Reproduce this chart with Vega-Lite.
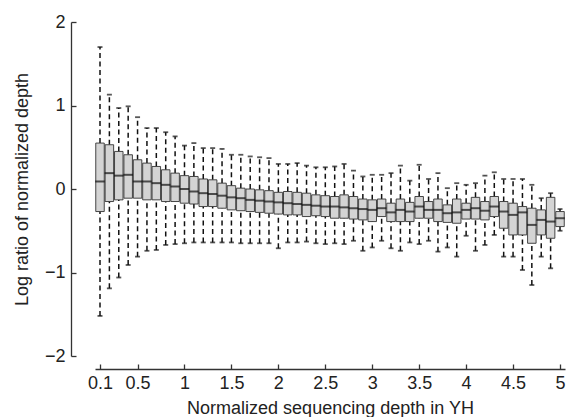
{
  "$schema": "https://vega.github.io/schema/vega-lite/v6.json",
  "width": 470,
  "height": 334,
  "autosize": {"type": "none"},
  "padding": {"left": 95, "top": 22, "right": 5, "bottom": 61},
  "background": "white",
  "config": {
    "font": "Liberation Sans",
    "view": {"stroke": null},
    "axis": {"grid": false, "domainColor": "#333", "tickColor": "#333", "labelColor": "#222", "titleColor": "#222", "labelFontSize": 18, "titleFontSize": 18, "labelFontWeight": "normal", "titleFontWeight": "normal", "domainWidth": 1.3, "tickWidth": 1.3}
  },
  "data": {
    "values": [
      {"x": 0.1, "lw": -1.52, "q1": -0.27, "med": 0.09, "q3": 0.55, "uw": 1.70},
      {"x": 0.2, "lw": -1.19, "q1": -0.15, "med": 0.19, "q3": 0.53, "uw": 1.13},
      {"x": 0.3, "lw": -1.06, "q1": -0.13, "med": 0.16, "q3": 0.45, "uw": 0.97},
      {"x": 0.4, "lw": -0.91, "q1": -0.11, "med": 0.17, "q3": 0.41, "uw": 0.99},
      {"x": 0.5, "lw": -0.81, "q1": -0.11, "med": 0.09, "q3": 0.35, "uw": 0.86},
      {"x": 0.6, "lw": -0.74, "q1": -0.13, "med": 0.09, "q3": 0.31, "uw": 0.73},
      {"x": 0.7, "lw": -0.73, "q1": -0.13, "med": 0.07, "q3": 0.27, "uw": 0.73},
      {"x": 0.8, "lw": -0.67, "q1": -0.15, "med": 0.05, "q3": 0.23, "uw": 0.68},
      {"x": 0.9, "lw": -0.66, "q1": -0.15, "med": 0.03, "q3": 0.19, "uw": 0.63},
      {"x": 1.0, "lw": -0.65, "q1": -0.17, "med": 0.00, "q3": 0.16, "uw": 0.52},
      {"x": 1.1, "lw": -0.64, "q1": -0.18, "med": -0.03, "q3": 0.15, "uw": 0.55},
      {"x": 1.2, "lw": -0.64, "q1": -0.21, "med": -0.05, "q3": 0.12, "uw": 0.49},
      {"x": 1.3, "lw": -0.64, "q1": -0.21, "med": -0.06, "q3": 0.11, "uw": 0.49},
      {"x": 1.4, "lw": -0.64, "q1": -0.23, "med": -0.08, "q3": 0.07, "uw": 0.48},
      {"x": 1.5, "lw": -0.64, "q1": -0.25, "med": -0.10, "q3": 0.04, "uw": 0.41},
      {"x": 1.6, "lw": -0.65, "q1": -0.26, "med": -0.11, "q3": 0.01, "uw": 0.41},
      {"x": 1.7, "lw": -0.65, "q1": -0.27, "med": -0.13, "q3": 0.00, "uw": 0.39},
      {"x": 1.8, "lw": -0.65, "q1": -0.28, "med": -0.14, "q3": -0.01, "uw": 0.38},
      {"x": 1.9, "lw": -0.65, "q1": -0.29, "med": -0.15, "q3": -0.02, "uw": 0.37},
      {"x": 2.0, "lw": -0.71, "q1": -0.30, "med": -0.16, "q3": -0.04, "uw": 0.30},
      {"x": 2.1, "lw": -0.64, "q1": -0.31, "med": -0.17, "q3": -0.03, "uw": 0.30},
      {"x": 2.2, "lw": -0.64, "q1": -0.31, "med": -0.18, "q3": -0.04, "uw": 0.31},
      {"x": 2.3, "lw": -0.63, "q1": -0.33, "med": -0.19, "q3": -0.05, "uw": 0.28},
      {"x": 2.4, "lw": -0.65, "q1": -0.32, "med": -0.20, "q3": -0.07, "uw": 0.26},
      {"x": 2.5, "lw": -0.66, "q1": -0.33, "med": -0.21, "q3": -0.08, "uw": 0.26},
      {"x": 2.6, "lw": -0.65, "q1": -0.35, "med": -0.21, "q3": -0.09, "uw": 0.27},
      {"x": 2.7, "lw": -0.66, "q1": -0.35, "med": -0.22, "q3": -0.07, "uw": 0.30},
      {"x": 2.8, "lw": -0.62, "q1": -0.36, "med": -0.23, "q3": -0.09, "uw": 0.22},
      {"x": 2.9, "lw": -0.74, "q1": -0.37, "med": -0.24, "q3": -0.12, "uw": 0.15},
      {"x": 3.0, "lw": -0.70, "q1": -0.39, "med": -0.25, "q3": -0.13, "uw": 0.17},
      {"x": 3.1, "lw": -0.62, "q1": -0.33, "med": -0.23, "q3": -0.12, "uw": 0.17},
      {"x": 3.2, "lw": -0.71, "q1": -0.39, "med": -0.28, "q3": -0.17, "uw": 0.19},
      {"x": 3.3, "lw": -0.74, "q1": -0.39, "med": -0.25, "q3": -0.12, "uw": 0.28},
      {"x": 3.4, "lw": -0.64, "q1": -0.39, "med": -0.27, "q3": -0.16, "uw": 0.10},
      {"x": 3.5, "lw": -0.66, "q1": -0.35, "med": -0.21, "q3": -0.09, "uw": 0.29},
      {"x": 3.6, "lw": -0.62, "q1": -0.35, "med": -0.25, "q3": -0.15, "uw": 0.12},
      {"x": 3.7, "lw": -0.75, "q1": -0.39, "med": -0.25, "q3": -0.12, "uw": 0.19},
      {"x": 3.8, "lw": -0.70, "q1": -0.40, "med": -0.29, "q3": -0.19, "uw": 0.01},
      {"x": 3.9, "lw": -0.81, "q1": -0.41, "med": -0.28, "q3": -0.12, "uw": 0.07},
      {"x": 4.0, "lw": -0.56, "q1": -0.36, "med": -0.25, "q3": -0.17, "uw": 0.05},
      {"x": 4.1, "lw": -0.74, "q1": -0.36, "med": -0.23, "q3": -0.10, "uw": 0.07},
      {"x": 4.2, "lw": -0.67, "q1": -0.37, "med": -0.26, "q3": -0.15, "uw": 0.16},
      {"x": 4.3, "lw": -0.55, "q1": -0.33, "med": -0.21, "q3": -0.09, "uw": 0.20},
      {"x": 4.4, "lw": -0.81, "q1": -0.47, "med": -0.27, "q3": -0.15, "uw": 0.12},
      {"x": 4.5, "lw": -0.81, "q1": -0.55, "med": -0.31, "q3": -0.17, "uw": 0.12},
      {"x": 4.6, "lw": -0.97, "q1": -0.55, "med": -0.28, "q3": -0.21, "uw": 0.12},
      {"x": 4.7, "lw": -1.15, "q1": -0.65, "med": -0.43, "q3": -0.23, "uw": 0.05},
      {"x": 4.8, "lw": -0.81, "q1": -0.55, "med": -0.37, "q3": -0.25, "uw": -0.11},
      {"x": 4.9, "lw": -0.95, "q1": -0.59, "med": -0.39, "q3": -0.10, "uw": -0.05},
      {"x": 5.0, "lw": -0.50, "q1": -0.45, "med": -0.35, "q3": -0.27, "uw": -0.24}
    ]
  },
  "encoding": {
    "x": {
      "field": "x", "type": "quantitative",
      "scale": {"domain": [0.1, 5], "nice": false, "zero": false},
      "axis": {"title": "Normalized sequencing depth in YH", "values": [0.1, 0.5, 1, 1.5, 2, 2.5, 3, 3.5, 4, 4.5, 5], "format": "~g", "offset": 13, "tickSize": -5, "labelPadding": 10, "titlePadding": 7, "labelFlush": false}
    }
  },
  "layer": [
    {
      "mark": {"type": "rule", "color": "#111", "strokeWidth": 1.5, "strokeDash": [5, 3.5]},
      "encoding": {
        "y": {"field": "q3", "type": "quantitative", "scale": {"domain": [-2, 2], "nice": false},
          "axis": {"title": "Log ratio of normalized depth", "values": [-2, -1, 0, 1, 2], "format": "~g", "offset": 24, "tickSize": -5, "labelPadding": 11, "titlePadding": 13, "labelFlush": false}},
        "y2": {"field": "uw"}
      }
    },
    {
      "mark": {"type": "rule", "color": "#111", "strokeWidth": 1.5, "strokeDash": [5, 3.5]},
      "encoding": {
        "y": {"field": "lw", "type": "quantitative"},
        "y2": {"field": "q1"}
      }
    },
    {
      "mark": {"type": "bar", "size": 8.5, "fill": "#d4d4d4", "stroke": "#333", "strokeWidth": 0.9},
      "encoding": {
        "y": {"field": "q1", "type": "quantitative"},
        "y2": {"field": "q3"}
      }
    },
    {
      "mark": {"type": "tick", "orient": "horizontal", "size": 9.6, "thickness": 2, "color": "#111"},
      "encoding": {"y": {"field": "med", "type": "quantitative"}}
    },
    {
      "mark": {"type": "tick", "orient": "horizontal", "size": 5, "thickness": 1.8, "color": "#111"},
      "encoding": {"y": {"field": "uw", "type": "quantitative"}}
    },
    {
      "mark": {"type": "tick", "orient": "horizontal", "size": 5, "thickness": 1.8, "color": "#111"},
      "encoding": {"y": {"field": "lw", "type": "quantitative"}}
    }
  ]
}
